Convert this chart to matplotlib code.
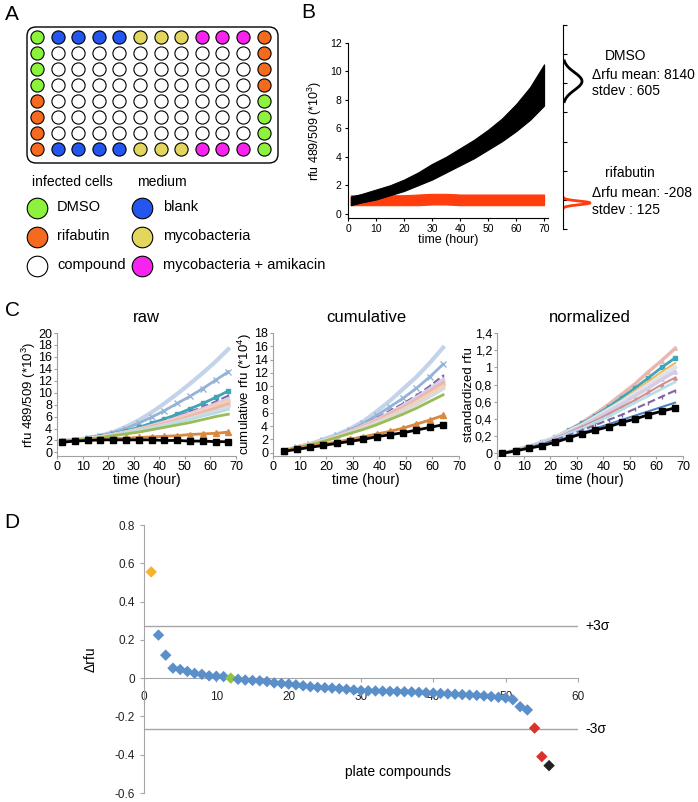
import numpy as np
import matplotlib
matplotlib.use("Agg")
import matplotlib.pyplot as plt
from matplotlib.patches import FancyBboxPatch

plt.rcParams["font.family"] = ["Liberation Sans", "DejaVu Sans"]
plt.rcParams["mathtext.fontset"] = "custom"
plt.rcParams["mathtext.rm"] = "Liberation Sans"
plt.rcParams["mathtext.it"] = "Liberation Sans:italic"

W, H = 698, 802

# ---- A: plate layout (D=DMSO, R=rifabutin, C=compound, B=blank, M=mycobacteria, A=myco+amikacin)
PLATE = ["DBBBBMMMAAAR",
         "DCCCCCCCCCCR",
         "DCCCCCCCCCCR",
         "DCCCCCCCCCCR",
         "RCCCCCCCCCCD",
         "RCCCCCCCCCCD",
         "RCCCCCCCCCCD",
         "RBBBBMMMAAAD"]
WELL_COLORS = {"D": "#8cf23c", "R": "#f46a1e", "C": "white",
               "B": "#2256ee", "M": "#e3d65e", "A": "#f824ee"}
LEGEND_INFECTED = [("D", "DMSO"), ("R", "rifabutin"), ("C", "compound")]
LEGEND_MEDIUM = [("B", "blank"), ("M", "mycobacteria"), ("A", "mycobacteria + amikacin")]

# ---- B: time courses (x10^3) and end-point distributions
B_T = [1, 5, 10, 15, 20, 25, 30, 35, 40, 45, 50, 55, 60, 65, 70]
B_DMSO_LO = [0.6, 0.8, 1.0, 1.3, 1.6, 2.0, 2.4, 2.9, 3.4, 3.9, 4.5, 5.1, 5.8, 6.6, 7.6]
B_DMSO_HI = [1.2, 1.4, 1.7, 2.0, 2.4, 2.9, 3.5, 4.0, 4.6, 5.2, 5.9, 6.7, 7.7, 8.9, 10.5]
B_RIF_LO = [0.6, 0.6, 0.6, 0.6, 0.6, 0.6, 0.65, 0.65, 0.6, 0.6, 0.6, 0.6, 0.6, 0.6, 0.6]
B_RIF_HI = [1.3, 1.3, 1.3, 1.3, 1.3, 1.35, 1.4, 1.4, 1.35, 1.35, 1.35, 1.35, 1.35, 1.35, 1.35]
DMSO_MEAN, DMSO_SD = 8140, 605
RIF_MEAN, RIF_SD = -208, 125

# ---- C: raw (x10^3)
T_RAW = [2, 7, 12, 17, 22, 27, 32, 37, 42, 47, 52, 57, 62, 67]
RAW = {
    "lightblue": [1.9, 2.1, 2.4, 2.8, 3.4, 4.3, 5.4, 6.7, 8.2, 9.8, 11.5, 13.3, 15.2, 17.3],
    "blue":      [1.9, 2.1, 2.4, 2.8, 3.3, 4.0, 4.9, 5.9, 7.0, 8.2, 9.4, 10.7, 12.1, 13.5],
    "teal":      [1.9, 2.1, 2.4, 2.7, 3.1, 3.6, 4.2, 4.9, 5.6, 6.4, 7.3, 8.2, 9.2, 10.3],
    "purple":    [1.9, 2.1, 2.4, 2.7, 3.1, 3.5, 4.0, 4.6, 5.3, 6.0, 6.8, 7.6, 8.5, 9.5],
    "lavender":  [1.9, 2.1, 2.3, 2.6, 3.0, 3.4, 3.9, 4.5, 5.1, 5.8, 6.5, 7.3, 8.1, 9.0],
    "peach":     [1.9, 2.1, 2.3, 2.6, 3.0, 3.4, 3.9, 4.4, 5.0, 5.6, 6.3, 7.0, 7.8, 8.6],
    "pink":      [1.9, 2.1, 2.3, 2.6, 2.9, 3.3, 3.8, 4.3, 4.8, 5.4, 6.0, 6.7, 7.4, 8.1],
    "gray":      [1.9, 2.1, 2.3, 2.6, 2.9, 3.3, 3.7, 4.1, 4.6, 5.1, 5.7, 6.3, 6.9, 7.6],
    "aqua":      [1.9, 2.1, 2.3, 2.5, 2.8, 3.2, 3.6, 4.0, 4.5, 5.0, 5.5, 6.1, 6.6, 7.2],
    "green":     [1.9, 2.0, 2.2, 2.5, 2.8, 3.1, 3.4, 3.8, 4.2, 4.6, 5.0, 5.5, 6.0, 6.4],
    "orange":    [1.9, 2.0, 2.1, 2.2, 2.3, 2.4, 2.5, 2.6, 2.7, 2.8, 3.0, 3.1, 3.2, 3.4],
    "black":     [1.7, 1.9, 2.0, 2.1, 2.1, 2.1, 2.1, 2.1, 2.0, 2.0, 1.9, 1.9, 1.8, 1.8],
}
# ---- C: cumulative (x10^4)
T_CUM = [4, 9, 14, 19, 24, 29, 34, 39, 44, 49, 54, 59, 64]
CUM = {
    "lightblue": [0.3, 0.8, 1.3, 2.0, 2.7, 3.6, 4.7, 6.2, 7.8, 9.6, 11.4, 13.5, 15.8],
    "blue":      [0.3, 0.8, 1.3, 1.9, 2.6, 3.4, 4.4, 5.6, 6.9, 8.2, 9.7, 11.4, 13.3],
    "purple":    [0.3, 0.8, 1.3, 1.9, 2.5, 3.3, 4.2, 5.2, 6.3, 7.4, 8.6, 10.0, 11.6],
    "lavender":  [0.3, 0.8, 1.3, 1.9, 2.5, 3.2, 4.1, 5.0, 6.0, 7.1, 8.3, 9.6, 11.0],
    "pink":      [0.3, 0.8, 1.3, 1.8, 2.4, 3.1, 3.9, 4.8, 5.8, 6.8, 7.9, 9.2, 10.5],
    "peach":     [0.3, 0.8, 1.3, 1.8, 2.4, 3.1, 3.8, 4.6, 5.5, 6.5, 7.6, 8.8, 10.0],
    "gray":      [0.3, 0.8, 1.2, 1.8, 2.4, 3.0, 3.7, 4.5, 5.3, 6.3, 7.3, 8.4, 9.6],
    "green":     [0.3, 0.8, 1.2, 1.7, 2.3, 2.9, 3.5, 4.2, 5.0, 5.8, 6.7, 7.7, 8.7],
    "orange":    [0.3, 0.6, 1.0, 1.3, 1.6, 2.0, 2.4, 2.8, 3.2, 3.7, 4.3, 4.9, 5.6],
    "black":     [0.2, 0.5, 0.8, 1.1, 1.4, 1.7, 2.0, 2.4, 2.7, 3.0, 3.4, 3.8, 4.2],
}
# ---- C: normalized
T_NORM = [2, 7, 12, 17, 22, 27, 32, 37, 42, 47, 52, 57, 62, 67]
NORM = {
    "pink":     [0.0, 0.04, 0.08, 0.13, 0.19, 0.27, 0.36, 0.46, 0.57, 0.69, 0.81, 0.95, 1.08, 1.22],
    "teal":     [0.0, 0.04, 0.08, 0.13, 0.19, 0.27, 0.35, 0.44, 0.54, 0.65, 0.76, 0.88, 1.00, 1.11],
    "yellow":   [0.0, 0.04, 0.08, 0.13, 0.19, 0.26, 0.34, 0.43, 0.52, 0.62, 0.73, 0.84, 0.95, 1.05],
    "silver":   [0.0, 0.04, 0.08, 0.13, 0.19, 0.26, 0.33, 0.42, 0.51, 0.60, 0.70, 0.80, 0.90, 1.00],
    "lavender": [0.0, 0.04, 0.08, 0.13, 0.18, 0.25, 0.32, 0.40, 0.49, 0.57, 0.67, 0.76, 0.86, 0.95],
    "rose":     [0.0, 0.04, 0.08, 0.12, 0.18, 0.24, 0.31, 0.38, 0.46, 0.54, 0.62, 0.71, 0.80, 0.88],
    "aqua":     [0.0, 0.04, 0.07, 0.12, 0.17, 0.23, 0.29, 0.36, 0.43, 0.51, 0.59, 0.67, 0.75, 0.83],
    "purple":   [0.0, 0.04, 0.07, 0.11, 0.16, 0.21, 0.27, 0.33, 0.39, 0.45, 0.52, 0.59, 0.66, 0.73],
    "darkblue": [0.0, 0.03, 0.07, 0.10, 0.14, 0.19, 0.24, 0.29, 0.34, 0.39, 0.44, 0.49, 0.54, 0.59],
    "black":    [0.0, 0.03, 0.06, 0.09, 0.13, 0.18, 0.23, 0.27, 0.31, 0.36, 0.40, 0.45, 0.49, 0.53],
}
NORM_YTICKS = [0, 0.2, 0.4, 0.6, 0.8, 1.0, 1.2, 1.4]
NORM_YLABELS = ["0", "0,2", "0,4", "0,6", "0,8", "1", "1,2", "1,4"]

STYLE = {  # color, lw, marker, ms, ls
    "lightblue": ("#c3d3e9", 3.0, None, 0, "-"),
    "blue":      ("#95b3d7", 2.0, "x", 4, "-"),
    "teal":      ("#3fa5b8", 2.0, "s", 2.5, "-"),
    "purple":    ("#8064a2", 1.5, "|", 3, "--"),
    "lavender":  ("#d6cde3", 2.5, "^", 2.5, "-"),
    "peach":     ("#f9cfb0", 2.5, "^", 2.5, "-"),
    "pink":      ("#eab7b0", 2.5, "^", 2.5, "-"),
    "gray":      ("#dadada", 2.5, None, 0, "-"),
    "aqua":      ("#b7dee8", 2.0, None, 0, "-"),
    "green":     ("#9bbb59", 2.0, None, 0, "-"),
    "orange":    ("#d8883f", 2.0, "^", 4, "-"),
    "black":     ("black", 2.0, "s", 5, "-"),
    "yellow":    ("#f2b85a", 1.5, None, 0, "-"),
    "silver":    ("#dfe2ea", 3.0, None, 0, "-"),
    "rose":      ("#d08f8c", 1.5, "^", 2.5, "-"),
    "darkblue":  ("#4f81bd", 1.5, None, 0, "-"),
}

# ---- D: hit ranking
D_IDX = list(range(1, 57))
D_DELTA = [0.555, 0.225, 0.12, 0.052, 0.045, 0.035, 0.025, 0.02, 0.012, 0.01,
           0.008, 0.0, -0.006, -0.01, -0.012, -0.014, -0.018, -0.025, -0.028, -0.031,
           -0.035, -0.04, -0.045, -0.048, -0.05, -0.052, -0.055, -0.058, -0.062, -0.065,
           -0.066, -0.067, -0.068, -0.069, -0.07, -0.071, -0.072, -0.074, -0.076, -0.078,
           -0.08, -0.082, -0.084, -0.086, -0.088, -0.09, -0.093, -0.096, -0.1, -0.103,
           -0.113, -0.149, -0.166, -0.261, -0.41, -0.457]
D_KIND = ["up"] + ["cmp"] * 10 + ["ref"] + ["cmp"] * 41 + ["down", "down", "dead"]
D_KIND_COLOR = {"up": "#f8b12b", "cmp": "#5b8fca", "ref": "#8ec63f",
                "down": "#d9312b", "dead": "#222222"}
SIGMA_HI, SIGMA_LO = 0.27, -0.265


def px_axes(l, t, r, b):
    return fig.add_axes([l / W, 1 - b / H, (r - l) / W, (b - t) / H])


def ftext(x, y, s, **kw):
    fig.text(x / W, 1 - y / H, s, **kw)


fig = plt.figure(figsize=(W / 100, H / 100), dpi=100)

# ---------------- A
axa = px_axes(0, 0, 300, 300)
axa.set_xlim(0, 300); axa.set_ylim(300, 0); axa.axis("off")
axa.add_patch(FancyBboxPatch((27, 27), 251, 136, boxstyle="round,pad=0,rounding_size=9",
                             fc="white", ec="black", lw=1.0))
for r, row in enumerate(PLATE):
    for c, k in enumerate(row):
        axa.scatter(37 + c * 20.6, 37 + r * 16.0, s=90, c=WELL_COLORS[k], edgecolors="black",
                    linewidths=0.8, zorder=3)
axa.text(32, 182, "infected cells", fontsize=10, va="center")
axa.text(137, 182, "medium", fontsize=10, va="center")
for i, (k, lab) in enumerate(LEGEND_INFECTED):
    axa.scatter(37, 208 + i * 29, s=220, c=WELL_COLORS[k], edgecolors="black", linewidths=0.8)
    axa.text(57, 207 + i * 29, lab, fontsize=10.5, va="center")
for i, (k, lab) in enumerate(LEGEND_MEDIUM):
    axa.scatter(142, 208 + i * 29, s=220, c=WELL_COLORS[k], edgecolors="black", linewidths=0.8)
    axa.text(163, 207 + i * 29, lab, fontsize=10.5, va="center")

# ---------------- B
axb = px_axes(348, 43, 548, 218)
axb.fill_between(B_T, B_DMSO_LO, B_DMSO_HI, color="black", lw=0.8, zorder=3)
axb.fill_between(B_T, B_RIF_LO, B_RIF_HI, color="#ff3d0d", lw=0.8, zorder=2)
axb.set_xlim(0, 71.4); axb.set_ylim(-0.3, 12)
axb.set_xticks(range(0, 71, 10)); axb.set_yticks(range(0, 13, 2))
for s in ("top", "right"):
    axb.spines[s].set_visible(False)
axb.tick_params(labelsize=7.5, length=2.5, width=0.8, pad=2)
axb.set_xlabel("time (hour)", fontsize=9, labelpad=0)
axb.set_ylabel("rfu 489/509 (*10$^3$)", fontsize=9, labelpad=4)

axd = px_axes(563, 25, 700, 229)
axd.set_xlim(0, 137); axd.set_ylim(-2000, 12000)
for s in ("top", "right", "bottom"):
    axd.spines[s].set_visible(False)
axd.set_xticks([]); axd.set_yticks(range(-2000, 12001, 2000)); axd.set_yticklabels([])
axd.tick_params(axis="y", direction="in", length=3, width=0.8)
yy = np.linspace(DMSO_MEAN - 2.3 * DMSO_SD, DMSO_MEAN + 2.3 * DMSO_SD, 100)
axd.plot(19 * np.exp(-0.5 * ((yy - DMSO_MEAN) / DMSO_SD) ** 2), yy, color="black", lw=2)
yy = np.linspace(RIF_MEAN - 3 * RIF_SD, RIF_MEAN + 3 * RIF_SD, 100)
axd.plot(27 * np.exp(-0.5 * ((yy - RIF_MEAN) / RIF_SD) ** 2), yy, color="#ff3d0d", lw=2)
ftext(605, 56, "DMSO", fontsize=10, va="center")
ftext(592, 75, f"\u0394rfu mean: {DMSO_MEAN}", fontsize=10, va="center")
ftext(592, 91, f"stdev : {DMSO_SD}", fontsize=10, va="center")
ftext(605, 173, "rifabutin", fontsize=10, va="center")
ftext(592, 193, f"\u0394rfu mean: {RIF_MEAN}", fontsize=10, va="center")
ftext(592, 210, f"stdev : {RIF_SD}", fontsize=10, va="center")


# ---------------- C
def curves(ax, t, data):
    for name, vals in data.items():
        col, lw, mk, ms, ls = STYLE[name]
        z = 5 if name == "black" else 3
        ax.plot(t, vals, color=col, lw=lw, ls=ls, marker=mk, ms=ms, mec=col, mfc=col, zorder=z)


def style_c(ax, title, ylabel):
    for s in ("top", "right"):
        ax.spines[s].set_visible(False)
    for s in ("left", "bottom"):
        ax.spines[s].set_color("#a0a0a0")
    ax.tick_params(labelsize=9, length=2.5, color="#a0a0a0", pad=1)
    ax.set_xlim(0, 70); ax.set_xticks(range(0, 71, 10))
    ax.set_title(title, fontsize=12, pad=8)
    ax.set_ylabel(ylabel, fontsize=9.5, labelpad=0)
    ax.set_xlabel("time (hour)", fontsize=10, labelpad=0)


ax1 = px_axes(57, 333, 236, 456)
curves(ax1, T_RAW, RAW)
style_c(ax1, "raw", "rfu 489/509 (*10$^3$)")
ax1.set_ylim(-0.6, 20); ax1.set_yticks(range(0, 21, 2))

ax2 = px_axes(273, 333, 459, 456)
curves(ax2, T_CUM, CUM)
style_c(ax2, "cumulative", "cumulative rfu (*10$^4$)")
ax2.set_ylim(-0.5, 18); ax2.set_yticks(range(0, 19, 2))

ax3 = px_axes(497, 333, 683, 456)
curves(ax3, T_NORM, NORM)
style_c(ax3, "normalized", "standardized rfu")
ax3.set_ylim(-0.03, 1.4); ax3.set_yticks(NORM_YTICKS); ax3.set_yticklabels(NORM_YLABELS)

# ---------------- D
ax4 = px_axes(144, 525, 578, 793)
ax4.scatter(D_IDX, D_DELTA, marker="D", s=34, c=[D_KIND_COLOR[k] for k in D_KIND],
            edgecolors="none", zorder=4)
ax4.axhline(SIGMA_HI, color="#a6a6a6", lw=1.0)
ax4.axhline(SIGMA_LO, color="#a6a6a6", lw=1.0)
ax4.set_xlim(0, 60); ax4.set_ylim(-0.6, 0.8)
ax4.set_xticks(range(0, 61, 10))
ax4.set_yticks([-0.6, -0.4, -0.2, 0, 0.2, 0.4, 0.6, 0.8])
ax4.set_yticklabels(["-0.6", "-0.4", "-0.2", "0", "0.2", "0.4", "0.6", "0.8"])
for s in ("top", "right"):
    ax4.spines[s].set_visible(False)
ax4.spines["bottom"].set_position(("data", 0))
for s in ("left", "bottom"):
    ax4.spines[s].set_color("#a6a6a6")
ax4.tick_params(labelsize=8.5, length=3, color="#a6a6a6", labelcolor="#222222")
ax4.tick_params(axis="x", pad=6)
ax4.text(61, SIGMA_HI, "+3\u03c3", fontsize=10, va="center")
ax4.text(61, SIGMA_LO, "-3\u03c3", fontsize=10, va="center")
ax4.text(35.1, -0.488, "plate compounds", fontsize=10, ha="center", va="center")
ax4.set_ylabel("\u0394rfu", fontsize=10, labelpad=12)

# panel letters
for x, y, s in [(12, 15, "A"), (308, 13, "B"), (12, 310, "C"), (12, 522, "D")]:
    ftext(x, y, s, fontsize=15, va="center", ha="center")

fig.savefig("out.png", dpi=100)
